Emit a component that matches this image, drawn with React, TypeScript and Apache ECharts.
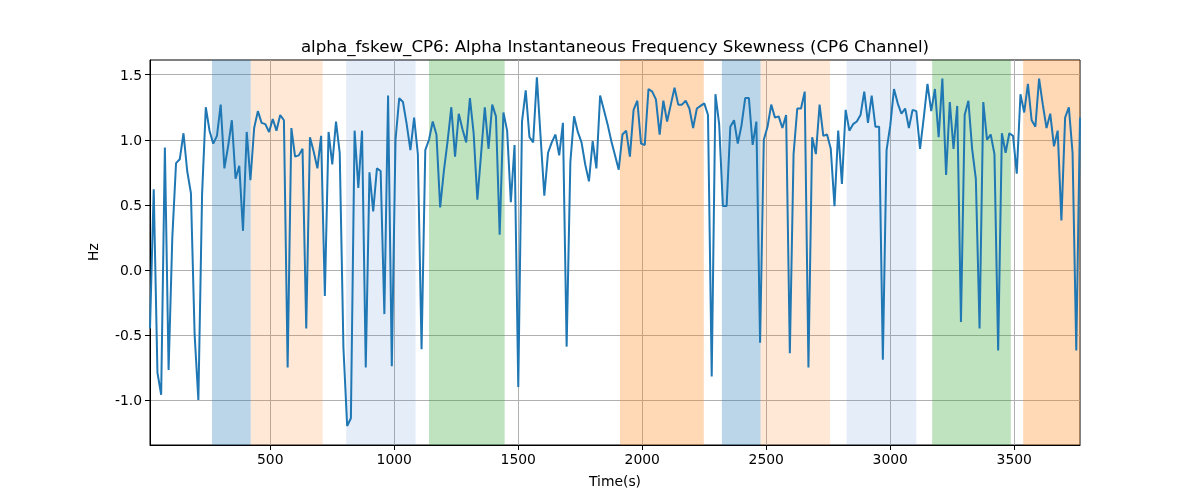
import React, { useEffect, useRef } from "react";
import * as echarts from "echarts";

// sample spacing: first sample at 15 s, one every 15 s
const T0 = 15;
const DT = 15;

const skewValues: number[] = [
  -0.45, 0.62, -0.79, -0.96, 0.94, -0.77, 0.25, 0.82, 0.85, 1.05,
  0.76, 0.59, -0.5, -1.0, 0.58, 1.25, 1.07, 0.97, 1.03, 1.27,
  0.78, 0.95, 1.15, 0.7, 0.8, 0.3, 1.06, 0.69, 1.09, 1.22,
  1.13, 1.12, 1.06, 1.16, 1.07, 1.19, 1.15, -0.75, 1.09, 0.87,
  0.88, 0.93, -0.45, 1.02, 0.91, 0.78, 1.03, -0.2, 1.06, 0.81,
  1.14, 0.9, -0.6, -1.2, -1.14, 1.07, 0.63, 1.07, -0.75, 0.75,
  0.45, 0.78, 0.76, -0.34, 1.34, -0.74, 1.0, 1.32, 1.29, 1.12,
  0.92, 1.17, 0.89, -0.61, 0.92, 1.0, 1.14, 1.04, 0.48, 0.76,
  0.99, 1.25, 0.87, 1.2, 1.08, 0.98, 1.32, 1.05, 0.54, 0.89,
  1.25, 0.93, 1.27, 1.18, 0.27, 1.21, 1.07, 0.52, 0.96, -0.9,
  1.14, 1.38, 1.02, 0.98, 1.48, 1.02, 0.57, 0.9, 0.98, 1.04,
  0.88, 1.13, -0.59, 0.83, 1.18, 1.06, 0.98, 0.81, 0.68, 0.99,
  0.78, 1.34, 1.23, 1.12, 0.99, 0.88, 0.77, 1.04, 1.07, 0.87,
  1.23, 1.3, 0.97, 0.96, 1.39, 1.37, 1.31, 1.04, 1.3, 1.14,
  1.27, 1.4, 1.27, 1.27, 1.3, 1.24, 1.09, 1.24, 1.26, 1.28,
  1.19, -0.82, 1.35, 1.12, 0.49, 0.49, 1.1, 1.15, 0.97, 1.11,
  1.32, 1.32, 0.96, 1.14, -0.56, 1.0, 1.1, 1.27, 1.17, 1.18,
  1.09, 1.19, -0.64, 0.89, 1.24, 1.24, 1.37, -0.75, 1.02, 0.89,
  1.27, 1.03, 1.04, 0.93, 0.49, 1.07, 0.66, 1.23, 1.07, 1.12,
  1.14, 1.19, 1.37, 1.13, 1.34, 1.1, 1.1, -0.69, 0.92, 1.11,
  1.39, 1.28, 1.2, 1.24, 1.09, 1.23, 1.22, 0.93, 1.17, 1.43,
  1.22, 1.39, 1.02, 1.47, 0.73, 1.29, 0.93, 1.26, -0.4, 1.19,
  1.3, 0.93, 0.7, -0.45, 1.29, 1.0, 1.04, 0.89, -0.62, 1.05,
  0.9, 1.05, 1.03, 0.74, 1.35, 1.21, 1.43, 1.15, 1.1, 1.47,
  1.27, 1.09, 1.2, 0.95, 1.07, 0.38, 1.17, 1.25, 0.9, -0.62,
  1.17,
];

const times = skewValues.map((_, i) => T0 + i * DT);

// shaded intervals
const bandStart = [265, 421, 806, 1140, 1910, 2321, 2477, 2824, 3169, 3536];
const bandEnd = [421, 711, 1086, 1445, 2248, 2477, 2757, 3105, 3486, 3765];
const bandKind = [
  "blue", "orangeLight", "blueLight", "green", "orange",
  "blue", "orangeLight", "blueLight", "green", "orange",
];

const xTicks = [500, 1000, 1500, 2000, 2500, 3000, 3500];
const yTicks = [-1.0, -0.5, 0.0, 0.5, 1.0, 1.5];

const X_MIN = 15;
const X_MAX = 3765;
const Y_MIN = -1.346;
const Y_MAX = 1.613;

const bandColors: Record<string, string> = {
  blue: "rgba(31,119,180,0.3)",
  orange: "rgba(255,127,14,0.3)",
  orangeLight: "rgba(255,127,14,0.17)",
  green: "rgba(44,160,44,0.3)",
  blueLight: "rgba(70,130,210,0.14)",
};

const FONT = "DejaVu Sans";

const App: React.FC = () => {
  const chartRef = useRef<HTMLDivElement | null>(null);

  useEffect(() => {
    if (!chartRef.current) return;
    const chart = echarts.init(chartRef.current, undefined, { renderer: "svg" });

    const areas = bandStart.map((s, i) => [
      { xAxis: s, itemStyle: { color: bandColors[bandKind[i]] } },
      { xAxis: bandEnd[i] },
    ]);

    chart.setOption({
      animation: false,
      grid: {
        left: 150,
        right: 120,
        top: 60,
        bottom: 55,
        show: true,
        borderColor: "#000",
        borderWidth: 1,
        backgroundColor: "transparent",
      },
      graphic: [
        {
          type: "text",
          x: 615,
          y: 46,
          style: {
            text: "alpha_fskew_CP6: Alpha Instantaneous Frequency Skewness (CP6 Channel)",
            fontFamily: FONT,
            fontSize: 16.7,
            fill: "#000",
            align: "center",
            verticalAlign: "middle",
          },
        },
        {
          type: "text",
          x: 615,
          y: 481,
          style: {
            text: "Time(s)",
            fontFamily: FONT,
            fontSize: 13.9,
            fill: "#000",
            align: "center",
            verticalAlign: "middle",
          },
        },
        {
          type: "text",
          x: 93,
          y: 252,
          rotation: Math.PI / 2,
          style: {
            text: "Hz",
            fontFamily: FONT,
            fontSize: 13.9,
            fill: "#000",
            align: "center",
            verticalAlign: "middle",
          },
        },
      ],
      xAxis: {
        type: "value",
        min: X_MIN,
        max: X_MAX,
        axisLine: { show: true, onZero: false, lineStyle: { color: "#000", width: 1 } },
        axisTick: {
          show: true,
          length: 5,
          customValues: xTicks,
          lineStyle: { color: "#000", width: 1 },
        },
        axisLabel: {
          customValues: xTicks,
          margin: 7,
          color: "#000",
          fontFamily: FONT,
          fontSize: 13.9,
          formatter: (v: number) => String(v),
        },
        splitLine: { show: true, lineStyle: { color: "#b0b0b0", width: 1 } },
      },
      yAxis: {
        type: "value",
        min: Y_MIN,
        max: Y_MAX,
        axisLine: { show: true, onZero: false, lineStyle: { color: "#000", width: 1 } },
        axisTick: {
          show: true,
          length: 5,
          customValues: yTicks,
          lineStyle: { color: "#000", width: 1 },
        },
        axisLabel: {
          customValues: yTicks,
          margin: 8,
          color: "#000",
          fontFamily: FONT,
          fontSize: 13.9,
          formatter: (v: number) => v.toFixed(1),
        },
        splitLine: { show: true, lineStyle: { color: "#b0b0b0", width: 1 } },
      },
      series: [
        {
          name: "alpha_fskew_CP6",
          type: "line",
          symbol: "none",
          clip: true,
          lineStyle: { color: "#1f77b4", width: 2 },
          data: times.map((t, i) => [t, skewValues[i]]),
          markArea: {
            silent: true,
            data: areas,
          },
        },
      ],
    });

    return () => {
      chart.dispose();
    };
  }, []);

  return (
    <div
      ref={chartRef}
      style={{ position: "fixed", left: 0, top: 0, width: "1200px", height: "500px" }}
    />
  );
};

export default App;
